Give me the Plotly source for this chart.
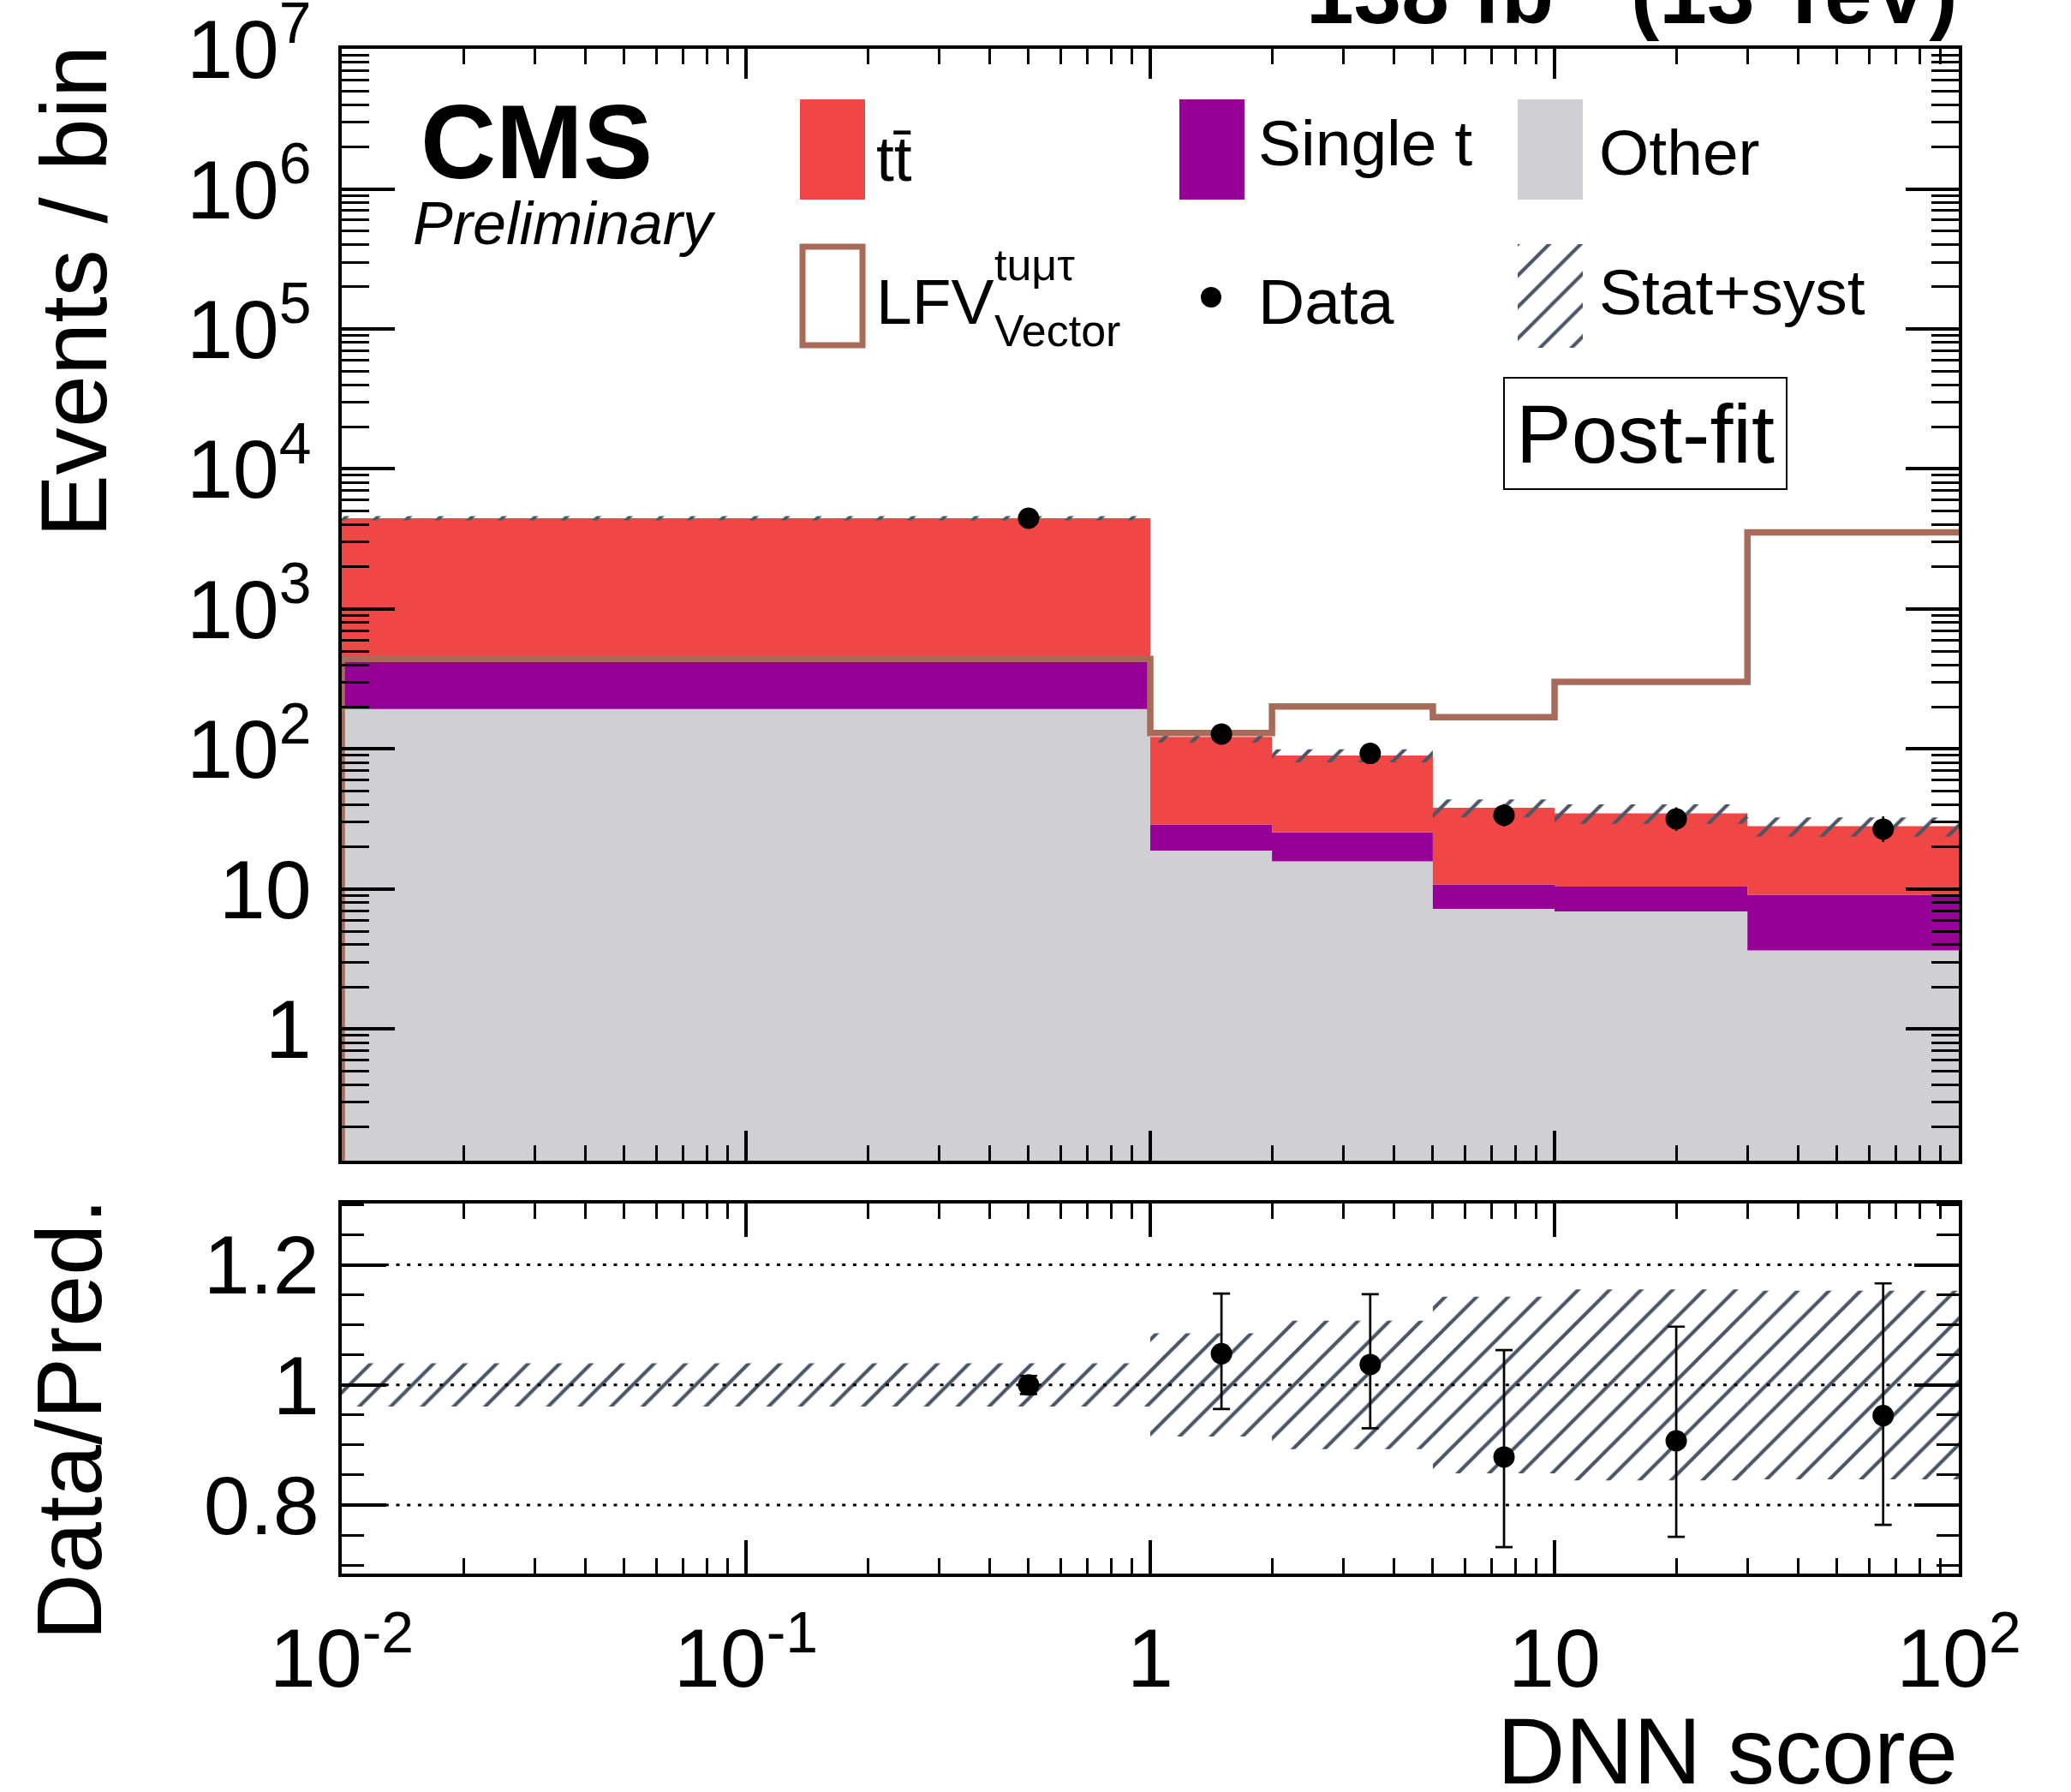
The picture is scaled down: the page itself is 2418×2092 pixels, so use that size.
import plotly.graph_objects as go

# ---------------- data ----------------
bin_edges = [0.0, 1.0, 2.0, 5.0, 10.0, 30.0, 100.0]
bin_centers = [0.5, 1.5, 3.5, 7.5, 20.0, 65.0]

other = [193.0, 18.8, 15.8, 7.23, 6.93, 3.64]
single_t = [227.0, 10.1, 9.6, 3.57, 3.47, 5.48]
ttbar = [4030.0, 93.1, 64.6, 27.3, 24.3, 18.98]
lfv_vector = [440.0, 130.0, 201.0, 169.0, 302.0, 3525.0]

data = [4450.0, 128.0, 93.0, 33.7, 31.7, 26.8]
data_err_up = [67.0, 12.0, 10.5, 6.8, 6.6, 6.2]
data_err_down = [67.0, 11.0, 9.6, 5.7, 5.6, 5.1]

unc_rel = [0.036, 0.086, 0.107, 0.147, 0.159, 0.157]

ratio = [1.0, 1.052, 1.034, 0.880, 0.907, 0.949]
ratio_err_up = [0.015, 0.100, 0.117, 0.178, 0.190, 0.220]
ratio_err_down = [0.015, 0.092, 0.106, 0.150, 0.160, 0.182]

x_tick_vals = [0.01, 0.1, 1, 10, 100]
x_tick_text = ["10<sup>-2</sup>", "10<sup>-1</sup>", "1", "10", "10<sup>2</sup>"]
y_tick_vals = [1, 10, 1e2, 1e3, 1e4, 1e5, 1e6, 1e7]
y_tick_text = ["1", "10", "10<sup>2</sup>", "10<sup>3</sup>", "10<sup>4</sup>",
               "10<sup>5</sup>", "10<sup>6</sup>", "10<sup>7</sup>"]
r_tick_vals = [0.8, 1.0, 1.2]
r_tick_text = ["0.8", "1", "1.2"]

# ---------------- style ----------------
C_TT = "#ef4646"
C_ST = "#960096"
C_OTHER = "#d0cfd4"
C_LFV = "#a96b59"
C_HATCH = "#4a5666"
FONT = "Liberation Sans, Arial, Helvetica, sans-serif"

W, H = 2418, 2092
L, R, T, B = 399, 2287, 57, 1837


def px(x):
    return (x - L) / (R - L)


def py(y):
    return (B - y) / (B - T)


X_MIN = 0.01
draw_edges = [max(e, X_MIN) for e in bin_edges]


def step(vals):
    xs, ys = [], []
    for i, v in enumerate(vals):
        xs += [draw_edges[i], draw_edges[i + 1]]
        ys += [v, v]
    return xs, ys


def band(lo, hi):
    xh, yh = step(hi)
    xl, yl = step(lo)
    return xh + xl[::-1] + [xh[0]], yh + yl[::-1] + [yh[0]]


floor = [1e-3] * len(other)
cum1 = [o for o in other]
cum2 = [o + s for o, s in zip(other, single_t)]
total = [c + t for c, t in zip(cum2, ttbar)]

fig = go.Figure()

for lo, hi, col in [(floor, cum1, C_OTHER), (cum1, cum2, C_ST), (cum2, total, C_TT)]:
    xs, ys = band(lo, hi)
    fig.add_trace(go.Scatter(x=xs, y=ys, mode="lines", fill="toself", fillcolor=col,
                             line=dict(width=0), hoverinfo="skip", xaxis="x", yaxis="y"))

# uncertainty band (top)
tot_lo = [t * (1 - u) for t, u in zip(total, unc_rel)]
tot_hi = [t * (1 + u) for t, u in zip(total, unc_rel)]
hatch = dict(shape="/", fgcolor=C_HATCH, fgopacity=1, size=26, solidity=0.16)
for i in range(len(total)):
    xs = [draw_edges[i], draw_edges[i + 1], draw_edges[i + 1], draw_edges[i], draw_edges[i]]
    ys = [tot_lo[i], tot_lo[i], tot_hi[i], tot_hi[i], tot_lo[i]]
    fig.add_trace(go.Scatter(x=xs, y=ys, mode="lines", fill="toself",
                             fillcolor="rgba(0,0,0,0)", fillpattern=hatch,
                             line=dict(width=0), hoverinfo="skip", xaxis="x", yaxis="y"))

# LFV signal step line
lx = [draw_edges[0]] + draw_edges[:-1] + [draw_edges[-1]]
ly = [1e-3] + lfv_vector + [lfv_vector[-1]]
fig.add_trace(go.Scatter(x=lx, y=ly, mode="lines", line=dict(color=C_LFV, width=7.5, shape="hv"),
                         hoverinfo="skip", xaxis="x", yaxis="y"))

# data
fig.add_trace(go.Scatter(x=bin_centers, y=data, mode="markers",
                         marker=dict(color="black", size=25),
                         error_y=dict(type="data", symmetric=False, array=data_err_up,
                                      arrayminus=data_err_down, color="black", thickness=2.7, width=0),
                         xaxis="x", yaxis="y"))

# ratio band
for i in range(len(total)):
    xs = [draw_edges[i], draw_edges[i + 1], draw_edges[i + 1], draw_edges[i], draw_edges[i]]
    ys = [1 - unc_rel[i], 1 - unc_rel[i], 1 + unc_rel[i], 1 + unc_rel[i], 1 - unc_rel[i]]
    fig.add_trace(go.Scatter(x=xs, y=ys, mode="lines", fill="toself",
                             fillcolor="rgba(0,0,0,0)", fillpattern=hatch,
                             line=dict(width=0), hoverinfo="skip", xaxis="x2", yaxis="y2"))

fig.add_trace(go.Scatter(x=bin_centers, y=ratio, mode="markers",
                         marker=dict(color="black", size=25),
                         error_y=dict(type="data", symmetric=False, array=ratio_err_up,
                                      arrayminus=ratio_err_down, color="black", thickness=2.7, width=10),
                         xaxis="x2", yaxis="y2"))

# legend hatch swatch on its own tiny hidden axes
fig.add_trace(go.Scatter(x=[0, 1, 1, 0, 0], y=[0, 0, 1, 1, 0], mode="lines", fill="toself",
                         fillcolor="rgba(0,0,0,0)", fillpattern=hatch, line=dict(width=0),
                         hoverinfo="skip", xaxis="x3", yaxis="y3"))

# ---------------- axes ----------------
minor_x = [m * 10 ** k for k in range(-2, 2) for m in range(2, 10)]
minor_y = [m * 10 ** k for k in range(-1, 7) for m in range(2, 10)]

common = dict(showline=True, linewidth=4, linecolor="black", mirror="ticks", ticks="inside",
              tickcolor="black", showgrid=False, zeroline=False, automargin=False,
              tickfont=dict(family=FONT, size=97, color="black"))

TOP_LO = py(1355)
RAT_HI = py(1405)

fig.update_layout(
    width=W, height=H,
    margin=dict(l=L, r=W - R, t=T, b=H - B, pad=0, autoexpand=False),
    paper_bgcolor="white", plot_bgcolor="white", showlegend=False,
    xaxis=dict(type="log", range=[-2, 2], domain=[0, 1], anchor="y",
               tickvals=x_tick_vals, showticklabels=False, ticklen=35, tickwidth=3.5,
               minor=dict(tickvals=minor_x, ticks="inside", ticklen=18, tickwidth=3, tickcolor="black"),
               **common),
    yaxis=dict(type="log", range=[-0.94, 7.0006], domain=[TOP_LO, 1], anchor="x",
               tickvals=y_tick_vals, ticktext=y_tick_text, ticklen=62, tickwidth=3.5,
               ticklabelstandoff=12, ticklabeloverflow="allow",
               minor=dict(tickvals=minor_y, ticks="inside", ticklen=32, tickwidth=3, tickcolor="black"),
               **common),
    xaxis2=dict(type="log", range=[-2, 2], domain=[0, 1], anchor="y2",
                tickvals=x_tick_vals, ticktext=x_tick_text, ticklen=39, tickwidth=3.5,
                ticklabelstandoff=12,
                minor=dict(tickvals=minor_x, ticks="inside", ticklen=18, tickwidth=3, tickcolor="black"),
                **common),
    yaxis2=dict(range=[0.686, 1.302], domain=[0, RAT_HI], anchor="x2",
                tickvals=r_tick_vals, ticktext=r_tick_text, ticklen=52, tickwidth=3.5,
                ticklabelstandoff=3,
                minor=dict(dtick=0.05, tick0=0, ticks="inside", ticklen=26, tickwidth=3, tickcolor="black"),
                **common),
    xaxis3=dict(domain=[px(1772), px(1848)], range=[0, 1], anchor="y3", visible=False, fixedrange=True),
    yaxis3=dict(domain=[py(406), py(285)], range=[0, 1], anchor="x3", visible=False, fixedrange=True),
)

# dotted reference lines in ratio panel
for v in r_tick_vals:
    fig.add_shape(type="line", xref="x2 domain", yref="y2", x0=0, x1=1, y0=v, y1=v,
                  line=dict(color="black", width=3, dash="4px,8.7px"), layer="above")

# ---------------- legend (drawn manually) ----------------
fig.add_shape(type="rect", xref="paper", yref="paper", x0=px(934), x1=px(1010), y0=py(233), y1=py(116),
              fillcolor=C_TT, line=dict(width=0))
fig.add_shape(type="rect", xref="paper", yref="paper", x0=px(1377), x1=px(1453), y0=py(233), y1=py(116),
              fillcolor=C_ST, line=dict(width=0))
fig.add_shape(type="rect", xref="paper", yref="paper", x0=px(1772), x1=px(1848), y0=py(233), y1=py(116),
              fillcolor=C_OTHER, line=dict(width=0))
fig.add_shape(type="rect", xref="paper", yref="paper", x0=px(937), x1=px(1007), y0=py(403), y1=py(288),
              fillcolor="white", line=dict(color=C_LFV, width=7))
fig.add_shape(type="circle", xref="paper", yref="paper", x0=px(1402), x1=px(1426), y0=py(359), y1=py(335),
              fillcolor="black", line=dict(width=0))
# Post-fit box
fig.add_shape(type="rect", xref="paper", yref="paper", x0=px(1756), x1=px(2086), y0=py(571), y1=py(441),
              fillcolor="white", line=dict(color="black", width=2))


def text(s, x, baseline, size, xanchor="left", bold=False, italic=False, angle=0):
    if bold:
        s = "<b>" + s + "</b>"
    if italic:
        s = "<i>" + s + "</i>"
    fig.add_annotation(text=s, xref="paper", yref="paper", x=px(x), y=py(baseline - 0.3465 * size),
                       xanchor=xanchor, yanchor="middle", showarrow=False, borderpad=0,
                       font=dict(family=FONT, size=size, color="black"), textangle=angle)


text("CMS", 490, 208, 122, bold=True)
text("Preliminary", 481, 285, 70, italic=True)
text("tt\u0304", 1022, 211, 75)
text("Single t", 1468, 193, 75)
text("Other", 1866, 204, 75)
text("LFV", 1022, 378, 75)
text("tu\u03bc\u03c4", 1160, 327, 52)
text("Vector", 1160, 404, 52)
text("Data", 1468, 378, 75)
text("Stat+syst", 1866, 367, 75)
text("Post-fit", 1921, 540, 97, xanchor="center")
text("DNN score", 2287, 2082, 110, xanchor="right")

# lumi label (partly cut by the top edge)
fig.add_annotation(text="<b>138 fb<sup>-1</sup> (13 TeV)</b>", xref="paper", yref="paper",
                   x=px(2287), y=py(49), xanchor="right", yanchor="bottom", showarrow=False,
                   borderpad=0, font=dict(family=FONT, size=100, color="black"))

# rotated y titles
fig.add_annotation(text="Events / bin", xref="paper", yref="paper", x=px(85), y=py(52),
                   xanchor="center", yanchor="top", showarrow=False, borderpad=0, textangle=-90,
                   font=dict(family=FONT, size=110, color="black"))
fig.add_annotation(text="Data/Pred.", xref="paper", yref="paper", x=px(80), y=py(1398),
                   xanchor="center", yanchor="top", showarrow=False, borderpad=0, textangle=-90,
                   font=dict(family=FONT, size=108, color="black"))

fig.write_html("out.html")
